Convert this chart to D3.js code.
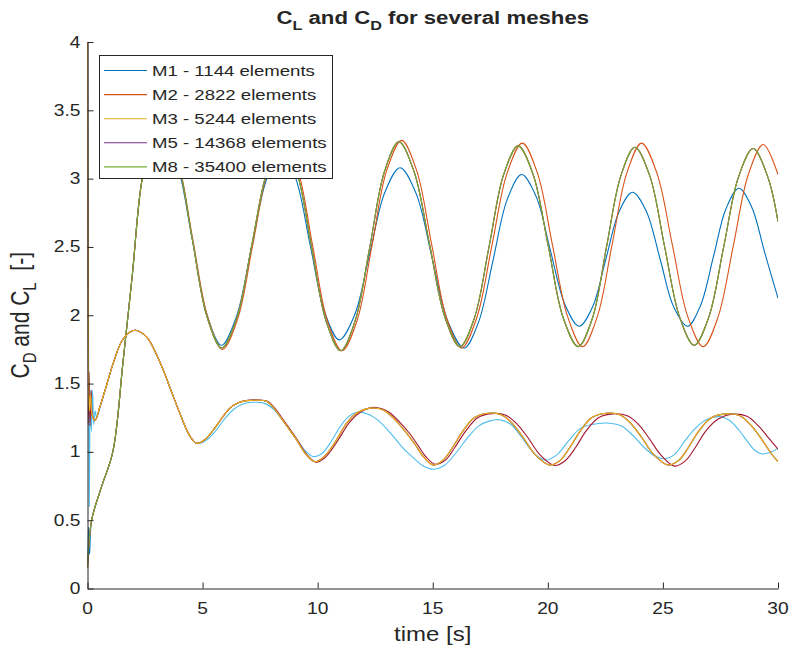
<!DOCTYPE html>
<html>
<head>
<meta charset="utf-8">
<script src="https://cdn.jsdelivr.net/npm/d3@7"></script>
<style>
  html, body { margin: 0; padding: 0; background: #fff; }
  svg { display: block; font-family: "Liberation Sans", Arial, Helvetica, sans-serif; }
</style>
</head>
<body>
<svg id="chart" width="794" height="659"></svg>
<script>
// mesh names (legend)
const meshes = ['M1 - 1144 elements', 'M2 - 2822 elements', 'M3 - 5244 elements',
                'M5 - 14368 elements', 'M8 - 35400 elements'];

const xTicks = [0, 5, 10, 15, 20, 25, 30];
const yTicks = [0, 0.5, 1, 1.5, 2, 2.5, 3, 3.5, 4];

// C_L, [time, value]
const clM1 = [
  [0,0.2],[0.05,0.45],[0.09,0.25],[0.18,0.5],[0.6,0.74],[1.1,1.0],[1.55,1.67],[1.95,2.3],[2.38,3.0],[2.8,3.22],[3.27,3.33],
  [3.91,3.10],[4.55,2.555],[5.18,2.01],[5.82,1.78],
  [6.47,1.99],[7.12,2.49],[7.77,2.99],[8.42,3.2],
  [9.05,3.0],[9.68,2.51],[10.31,2.02],[10.94,1.82],
  [11.6,2.0],[12.26,2.45],[12.92,2.90],[13.58,3.08],
  [14.28,2.89],[14.97,2.42],[15.67,1.95],[16.36,1.76],
  [16.99,1.95],[17.61,2.395],[18.24,2.85],[18.86,3.03],
  [19.49,2.87],[20.11,2.475],[20.74,2.08],[21.36,1.92],
  [21.94,2.06],[22.52,2.41],[23.1,2.76],[23.68,2.90],
  [24.28,2.76],[24.88,2.41],[25.47,2.06],[26.07,1.92],
  [26.63,2.07],[27.19,2.425],[27.74,2.78],[28.30,2.93],
  [28.86,2.79],[29.42,2.46],[30,2.125]
];
const clM2 = [
  [0,0.15],[0.18,0.5],[0.6,0.74],[1.1,1.0],[1.55,1.67],[1.95,2.3],[2.38,3.0],[2.8,3.25],[3.28,3.37],
  [3.93,3.13],[4.57,2.56],[5.22,1.99],[5.86,1.75],
  [6.52,1.97],[7.18,2.515],[7.84,3.06],[8.5,3.28],
  [9.14,3.06],[9.78,2.51],[10.42,1.96],[11.06,1.74],
  [11.71,1.96],[12.36,2.51],[13.0,3.06],[13.65,3.28],
  [14.3,3.06],[14.95,2.52],[15.6,1.98],[16.25,1.76],
  [16.91,1.98],[17.57,2.51],[18.23,3.04],[18.89,3.26],
  [19.55,3.04],[20.2,2.515],[20.86,1.99],[21.51,1.77],
  [22.15,1.99],[22.79,2.515],[23.43,3.04],[24.07,3.26],
  [24.74,3.04],[25.41,2.515],[26.08,1.99],[26.75,1.77],
  [27.4,1.99],[28.06,2.51],[28.71,3.03],[29.36,3.25],
  [30,3.03]
];
// M3, M5 and M8 lie on top of each other
const clM8 = [
  [0,0.15],[0.18,0.5],[0.6,0.74],[1.1,1.0],[1.55,1.67],[1.95,2.3],[2.38,3.0],[2.8,3.24],[3.27,3.36],
  [3.91,3.13],[4.55,2.56],[5.19,1.99],[5.83,1.76],
  [6.49,1.98],[7.14,2.515],[7.80,3.05],[8.45,3.27],
  [9.09,3.05],[9.73,2.505],[10.36,1.96],[11.0,1.74],
  [11.63,1.96],[12.27,2.505],[12.90,3.05],[13.53,3.27],
  [14.19,3.05],[14.86,2.52],[15.52,1.99],[16.18,1.77],
  [16.81,1.98],[17.45,2.505],[18.08,3.03],[18.71,3.24],
  [19.36,3.03],[20.02,2.505],[20.67,1.98],[21.32,1.77],
  [21.94,1.98],[22.55,2.50],[23.17,3.02],[23.78,3.23],
  [24.43,3.02],[25.07,2.505],[25.72,1.99],[26.36,1.78],
  [27.0,1.99],[27.64,2.50],[28.28,3.01],[28.92,3.22],
  [29.56,3.01],[30,2.685]
];
const clM3 = clM8;
const clM5 = clM8;

// C_D
const cdM1 = [
  [0,4.3],[0.04,2.2],[0.08,0.6],[0.12,1.45],[0.17,1.15],[0.22,1.45],[0.27,1.2],[0.33,1.3],[0.4,1.25],[0.54,1.32],
  [0.85,1.5],[1.12,1.65],[1.56,1.83],[2.06,1.89],[2.57,1.84],[2.95,1.73],[3.29,1.6],[3.65,1.44],[4.02,1.28],[4.4,1.13],[4.76,1.06],
  [5.15,1.085],[5.55,1.15],[5.95,1.24],[6.35,1.31],[6.75,1.35],[7.2,1.363],[7.7,1.355],[8.1,1.31],[8.4,1.25],[8.75,1.17],[9.1,1.09],[9.45,1.01],[9.8,0.966],
  [10.2,0.99],[10.6,1.08],[11.0,1.19],[11.35,1.26],[11.72,1.29],[12.2,1.275],[12.7,1.22],[13.2,1.13],[13.7,1.03],[14.2,0.95],[14.6,0.895],[15.05,0.873],
  [15.5,0.9],[16.0,0.99],[16.5,1.1],[17.0,1.19],[17.45,1.225],[17.9,1.235],[18.4,1.2],[18.85,1.11],[19.25,1.02],[19.6,0.96],[19.95,0.94],
  [20.4,0.98],[20.9,1.08],[21.4,1.17],[21.9,1.2],[22.7,1.21],[23.2,1.19],[23.7,1.12],[24.2,1.03],[24.65,0.97],[25.1,0.95],
  [25.5,0.98],[25.95,1.08],[26.45,1.18],[26.95,1.24],[27.46,1.258],[27.9,1.23],[28.3,1.16],[28.7,1.07],[29.0,1.01],[29.29,0.985],[29.65,0.995],[30,1.025]
];
const cdM2 = [
  [0,4.3],[0.03,1.2],[0.07,1.58],[0.11,1.19],[0.16,1.45],[0.22,1.26],[0.33,1.23],[0.54,1.33],
  [0.85,1.5],[1.12,1.65],[1.56,1.83],[2.06,1.89],[2.57,1.84],[2.95,1.73],[3.29,1.6],[3.65,1.44],[4.02,1.28],[4.4,1.13],[4.74,1.063],
  [5.1,1.09],[5.47,1.16],[5.85,1.25],[6.19,1.32],[6.55,1.36],[6.95,1.378],[7.4,1.38],[7.82,1.37],[8.14,1.32],[8.4,1.26],[8.74,1.18],[9.12,1.087],[9.53,0.98],[9.92,0.925],
  [10.3,0.955],[10.75,1.05],[11.05,1.13],[11.4,1.22],[11.85,1.29],[12.35,1.325],[12.8,1.315],[13.1,1.29],[13.55,1.22],[13.97,1.14],[14.35,1.05],[14.7,0.965],[15.1,0.91],
  [15.55,0.94],[15.95,1.03],[16.42,1.15],[16.95,1.25],[17.55,1.28],[18.15,1.27],[18.68,1.2],[19.15,1.1],[19.65,0.98],[20.3,0.9],
  [20.75,0.935],[21.2,1.03],[21.65,1.15],[22.2,1.25],[22.84,1.278],[23.45,1.265],[23.95,1.2],[24.4,1.1],[24.9,0.98],[25.5,0.896],
  [25.95,0.93],[26.4,1.03],[26.85,1.15],[27.4,1.24],[28.04,1.275],[28.65,1.26],[29.15,1.19],[29.6,1.1],[30,1.02]
];
const cdM8 = [
  [0,4.3],[0.04,1.65],[0.08,1.3],[0.13,1.42],[0.2,1.27],[0.33,1.23],[0.54,1.33],
  [0.85,1.5],[1.12,1.65],[1.56,1.83],[2.06,1.89],[2.57,1.84],[2.95,1.73],[3.29,1.6],[3.65,1.44],[4.02,1.28],[4.4,1.13],[4.74,1.063],
  [5.1,1.09],[5.47,1.16],[5.85,1.25],[6.19,1.32],[6.55,1.36],[6.92,1.375],[7.35,1.378],[7.78,1.37],[8.1,1.32],[8.36,1.26],[8.7,1.18],[9.09,1.087],[9.5,0.98],[9.88,0.928],
  [10.25,0.96],[10.68,1.05],[11.0,1.14],[11.3,1.22],[11.75,1.29],[12.27,1.32],[12.7,1.315],[13.0,1.29],[13.45,1.22],[13.87,1.136],[14.25,1.05],[14.59,0.965],[15.02,0.904],
  [15.45,0.94],[15.85,1.03],[16.3,1.15],[16.8,1.25],[17.41,1.283],[18.0,1.27],[18.5,1.2],[18.95,1.1],[19.45,0.98],[20.09,0.904],
  [20.55,0.94],[20.95,1.03],[21.4,1.15],[21.9,1.25],[22.55,1.283],[23.15,1.27],[23.65,1.2],[24.1,1.1],[24.6,0.98],[25.23,0.904],
  [25.7,0.94],[26.1,1.03],[26.55,1.15],[27.1,1.25],[27.77,1.278],[28.35,1.265],[28.85,1.19],[29.3,1.09],[29.7,0.99],[30,0.928]
];
const cdM3 = cdM8;
const cdM5 = cdM8;

// MATLAB default colour order, plot order CL M1..M8 then CD M1..M8
const colorOrder = ['#0072BD', '#D95319', '#EDB120', '#7E2F8E', '#77AC30', '#4DBEEE', '#A2142F'];
const series = [clM1, clM2, clM3, clM5, clM8, cdM1, cdM2, cdM3, cdM5, cdM8];

const SX = 1.2;       // picture is stretched horizontally, text too
const AX = '#262626';

const svg = d3.select('#chart');
const x = d3.scaleLinear().domain([0, 30]).range([87.5, 778]);
const y = d3.scaleLinear().domain([0, 4]).range([588.5, 42]);

svg.append('defs').append('clipPath').attr('id', 'plotclip')
  .append('rect')
  .attr('x', x(0)).attr('y', y(4))
  .attr('width', x(30) - x(0)).attr('height', y(0) - y(4));

// lines
const line = d3.line()
  .x(d => x(d[0])).y(d => y(d[1]))
  .curve(d3.curveCatmullRom.alpha(0.5));

svg.append('g').attr('clip-path', 'url(#plotclip)')
  .selectAll('path')
  .data(series)
  .enter().append('path')
  .attr('d', line)
  .attr('fill', 'none')
  .attr('stroke', (d, i) => colorOrder[i % colorOrder.length])
  .attr('stroke-width', 1.1)
  .attr('stroke-linejoin', 'round');

// text helper: stretched text at (px,py)
function stext(parent, px, py, size, anchor, rot) {
  const g = parent.append('g')
    .attr('transform', `translate(${px},${py}) scale(${SX},1)` + (rot ? ` rotate(${rot})` : ''));
  return g.append('text')
    .attr('font-size', size)
    .attr('text-anchor', anchor)
    .attr('fill', AX);
}

// axes
const xAxis = svg.append('g').attr('transform', `translate(0,${y(0)})`)
  .call(d3.axisBottom(x).tickValues(xTicks).tickSizeInner(-6).tickSizeOuter(0).tickFormat(() => ''));
const yAxis = svg.append('g').attr('transform', `translate(${x(0)},0)`)
  .call(d3.axisLeft(y).tickValues(yTicks).tickSizeInner(-6).tickSizeOuter(0).tickFormat(() => ''));
[xAxis, yAxis].forEach(a => {
  a.selectAll('path, line').attr('stroke', AX).attr('stroke-width', 1);
  a.selectAll('text').remove();
});

xTicks.forEach(t => {
  stext(svg, x(t), y(0) + 25, 16, 'middle').text(d3.format('')(t));
});
yTicks.forEach(t => {
  stext(svg, x(0) - 7, y(t) + 5.5, 16, 'end').text(d3.format('')(t));
});

// axis labels
stext(svg, x(15), 641, 20, 'middle').text('time [s]');

const yl = stext(svg, 29, (y(0) + y(4)) / 2, 21, 'middle', -90);
yl.append('tspan').text('C');
yl.append('tspan').attr('font-size', 15).attr('dy', 6).text('D');
yl.append('tspan').attr('dy', -6).text(' and C');
yl.append('tspan').attr('font-size', 15).attr('dy', 6).text('L');
yl.append('tspan').attr('dy', -6).attr('xml:space', 'preserve').text('  [-]');

// title
const tt = stext(svg, (x(0) + x(30)) / 2, 24, 18.5, 'middle');
tt.attr('font-weight', 'bold');
tt.append('tspan').text('C');
tt.append('tspan').attr('font-size', 13.5).attr('dy', 6).text('L');
tt.append('tspan').attr('dy', -6).text(' and C');
tt.append('tspan').attr('font-size', 13.5).attr('dy', 6).text('D');
tt.append('tspan').attr('dy', -6).text(' for several meshes');

// legend
const leg = svg.append('g');
leg.append('rect')
  .attr('x', 99.5).attr('y', 55.5).attr('width', 233).attr('height', 123)
  .attr('fill', '#fff').attr('stroke', AX).attr('stroke-width', 1);
meshes.forEach((m, i) => {
  const ly = 70.5 + i * 24.1;
  leg.append('line')
    .attr('x1', 104).attr('x2', 147).attr('y1', ly).attr('y2', ly)
    .attr('stroke', colorOrder[i]).attr('stroke-width', 1.1);
  stext(leg, 152, ly + 5.5, 15.5, 'start').text(m);
});
</script>
</body>
</html>
